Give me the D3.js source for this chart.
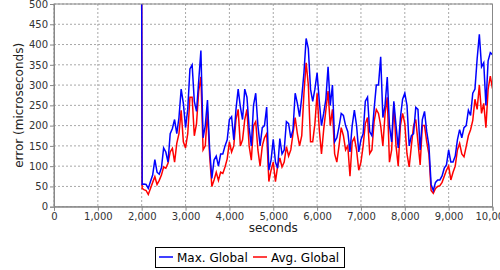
<!DOCTYPE html>
<html>
<head>
<meta charset="utf-8">
<script src="https://cdn.jsdelivr.net/npm/d3@7"></script>
<style>
  body { margin: 0; background: #fff; }
  text { font-family: "DejaVu Sans", sans-serif; }
</style>
</head>
<body>
<div id="chart"></div>
<script>
// sample times (s): spike at 2000, then one sample every 50 s
const seconds = [2000, 2010].concat(d3.range(2050, 10001, 50));

const maxGlobal = [500, 55,
  56, 55, 45, 62, 78, 116, 85, 80, 96, 145, 135, 110, 180, 193, 215, 180, 220, 290, 255, 195,
  240, 340, 350, 260, 235, 310, 385, 170, 200, 263, 140, 70, 115, 125, 100, 130, 130, 150, 165, 215,
  222, 165, 240, 290, 246, 215, 290, 270, 195, 150, 250, 280, 200, 150, 195, 200, 246, 90, 115, 166,
  110, 95, 168, 130, 140, 210, 205, 170, 190, 280, 255, 222, 270, 330, 415, 390, 290, 260, 290, 330,
  260, 200, 230, 265, 345, 250, 300, 160, 170, 197, 230, 225, 200, 185, 135, 200, 238, 200, 135, 165,
  180, 260, 270, 185, 175, 240, 300, 300, 370, 220, 250, 320, 200, 160, 260, 200, 145, 220, 265, 280,
  250, 150, 175, 180, 245, 240, 140, 215, 235, 185, 150, 55, 40, 60, 66, 66, 76, 95, 103, 140,
  110, 110, 125, 165, 190, 170, 195, 200, 238, 225, 280, 290, 365, 425, 345, 355, 250, 360, 380, 375];

const avgGlobal = [500, 45,
  42, 40, 30, 45, 60, 74, 55, 65, 78, 98, 95, 107, 135, 144, 110, 156, 180, 238, 160, 145,
  180, 270, 270, 175, 205, 285, 320, 140, 150, 235, 125, 50, 66, 85, 65, 85, 82, 98, 118, 160,
  135, 150, 215, 240, 150, 165, 215, 240, 150, 115, 200, 210, 140, 100, 150, 170, 180, 62, 90, 110,
  62, 100, 120, 98, 110, 148, 125, 140, 180, 220, 180, 150, 175, 280, 355, 300, 160, 160, 205, 280,
  190, 130, 190, 238, 285, 200, 240, 130, 110, 150, 195, 175, 140, 150, 75, 160, 170, 140, 90, 110,
  150, 205, 220, 131, 140, 210, 240, 230, 200, 150, 230, 270, 110, 140, 255, 150, 100, 200, 230, 205,
  130, 98, 150, 200, 215, 160, 103, 200, 200, 160, 130, 40, 33, 45, 50, 52, 60, 75, 90, 100,
  66, 85, 100, 140, 156, 130, 123, 148, 175, 190, 213, 265, 240, 300, 230, 255, 195, 290, 322, 291];

const seriesNames = ["Max. Global", "Avg. Global"];
const seriesColors = ["#0000ff", "#ff0000"];

const xTicks = d3.range(0, 10001, 1000);
const yTicks = d3.range(0, 501, 50);

const margin = { top: 4, right: 7.5, bottom: 63.3, left: 54 };
const width = 500 - margin.left - margin.right;
const height = 270 - margin.top - margin.bottom;

const root = d3.select("#chart")
  .append("svg")
  .attr("width", 500)
  .attr("height", 270);

const svg = root.append("g")
  .attr("transform", `translate(${margin.left},${margin.top})`);

const xScale = d3.scaleLinear().domain([0, 10000]).range([0, width]);
const yScale = d3.scaleLinear().domain([0, 500]).range([height, 0]);

// grid
svg.append("g")
  .selectAll("line")
  .data(xTicks)
  .join("line")
  .attr("x1", d => xScale(d)).attr("x2", d => xScale(d))
  .attr("y1", 0).attr("y2", height)
  .attr("stroke", "#a8a8a8")
  .attr("stroke-dasharray", "2,2");

svg.append("g")
  .selectAll("line")
  .data(yTicks)
  .join("line")
  .attr("x1", 0).attr("x2", width)
  .attr("y1", d => yScale(d)).attr("y2", d => yScale(d))
  .attr("stroke", "#a8a8a8")
  .attr("stroke-dasharray", "2,2");

// lines
const rows = seconds.map((s, i) => ({ s, max: maxGlobal[i], avg: avgGlobal[i] }));

svg.append("clipPath").attr("id", "clip")
  .append("rect").attr("width", width).attr("height", height);

const plot = svg.append("g").attr("clip-path", "url(#clip)");

const lineAvg = d3.line().x(d => xScale(d.s)).y(d => yScale(d.avg));
const lineMax = d3.line().x(d => xScale(d.s)).y(d => yScale(d.max));

plot.append("path")
  .datum(rows)
  .attr("fill", "none")
  .attr("stroke", seriesColors[1])
  .attr("stroke-width", 1.5)
  .attr("d", lineAvg);

plot.append("path")
  .datum(rows)
  .attr("fill", "none")
  .attr("stroke", seriesColors[0])
  .attr("stroke-width", 1.5)
  .attr("d", lineMax);

// frame
svg.append("rect")
  .attr("width", width).attr("height", height)
  .attr("fill", "none")
  .attr("stroke", "#888");

// axes
const xAxis = d3.axisBottom(xScale)
  .tickValues(xTicks)
  .tickFormat(d3.format(","))
  .tickSize(4)
  .tickPadding(2);

const yAxis = d3.axisLeft(yScale)
  .tickValues(yTicks)
  .tickSize(4)
  .tickPadding(2);

svg.append("g")
  .attr("class", "axis x-axis")
  .attr("transform", `translate(0,${height})`)
  .call(xAxis);

svg.append("g")
  .attr("class", "axis y-axis")
  .call(yAxis);

svg.selectAll(".axis path").attr("stroke", "#888");
svg.selectAll(".axis line").attr("stroke", "#888");
svg.selectAll(".axis text")
  .attr("fill", "#333")
  .style("font-size", "10px")
  .style("font-family", "DejaVu Sans, sans-serif");

// axis titles
svg.append("text")
  .attr("x", width / 2)
  .attr("y", 231.5 - margin.top)
  .attr("text-anchor", "middle")
  .attr("fill", "#222")
  .style("font-size", "12px")
  .text("seconds");

svg.append("text")
  .attr("transform", `translate(${23 - margin.left},${height / 2}) rotate(-90)`)
  .attr("text-anchor", "middle")
  .attr("fill", "#222")
  .style("font-size", "12px")
  .text("error (microseconds)");

// legend
const legend = root.append("g");
legend.append("rect")
  .attr("x", 155.5).attr("y", 247.5)
  .attr("width", 189).attr("height", 20)
  .attr("fill", "#fff")
  .attr("stroke", "#000");

const items = [
  { name: seriesNames[0], color: seriesColors[0], x: 159 },
  { name: seriesNames[1], color: seriesColors[1], x: 253 }
];

const item = legend.selectAll("g.item")
  .data(items)
  .join("g")
  .attr("transform", d => `translate(${d.x},257)`);

item.append("line")
  .attr("x1", 0).attr("x2", 14)
  .attr("stroke", d => d.color)
  .attr("stroke-width", 1.5);

item.append("text")
  .attr("x", 18)
  .attr("y", 4.5)
  .attr("fill", "#000")
  .style("font-size", "12px")
  .text(d => d.name);
</script>
</body>
</html>
